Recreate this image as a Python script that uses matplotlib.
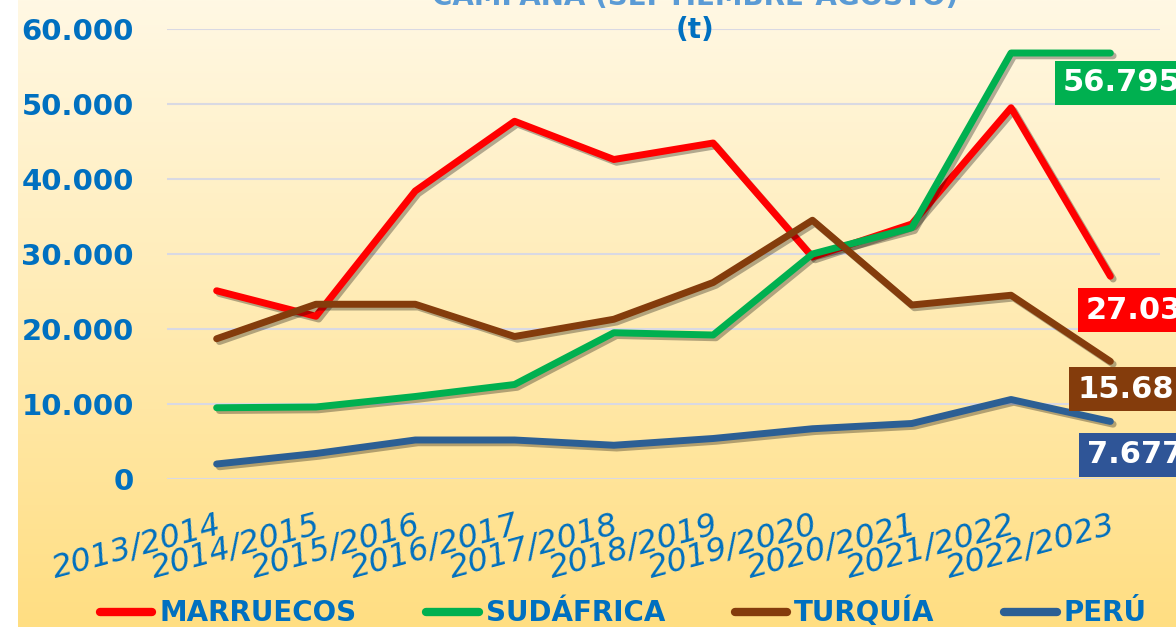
import numpy as np
import matplotlib
matplotlib.use("Agg")
import matplotlib.pyplot as plt
import matplotlib.patheffects as pe

plt.rcParams["font.family"] = ["DejaVu Sans"]

campaigns = ["2013/2014", "2014/2015", "2015/2016", "2016/2017", "2017/2018",
             "2018/2019", "2019/2020", "2020/2021", "2021/2022", "2022/2023"]
marruecos = [25100, 21700, 38400, 47700, 42600, 44800, 29600, 34000, 49500, 27034]
sudafrica = [9500, 9600, 11000, 12600, 19500, 19200, 30000, 33500, 56800, 56795]
turquia = [18700, 23300, 23300, 19000, 21300, 26200, 34500, 23200, 24500, 15681]
peru = [2000, 3400, 5200, 5200, 4500, 5400, 6700, 7400, 10600, 7677]

# name, values, line colour, label box colour
series = [("MARRUECOS", marruecos, "#FF0000", "#FF0000"),
          ("SUDÁFRICA", sudafrica, "#00B050", "#00B050"),
          ("TURQUÍA", turquia, "#843C0C", "#843C0C"),
          ("PERÚ", peru, "#2C5F94", "#2F5597")]
blue = "#0070C0"

fig = plt.figure(figsize=(11.76, 6.27), dpi=100)
fig.patch.set_facecolor("white")

# ---- gradient background ----
bg = fig.add_axes([18 / 1176, 0, 1, 1], zorder=-10)
grad = np.linspace(0, 1, 256).reshape(-1, 1)
top = np.array([255, 248, 228]) / 255
bot = np.array([255, 222, 130]) / 255
img = top + (bot - top) * grad[:, :, None]
bg.imshow(img, aspect="auto", extent=[0, 1, 0, 1])
bg.axis("off")

ax = fig.add_axes([167 / 1176, 1 - 479 / 627, (1160 - 167) / 1176, (479 - 29) / 627])
ax.set_facecolor("none")

x = np.arange(len(campaigns))
shadow = [pe.SimpleLineShadow(offset=(2, -2), alpha=0.3, shadow_color="black"), pe.Normal()]
for name, vals, col, _ in series:
    ax.plot(x, vals, color=col, lw=5, solid_capstyle="round", label=name,
            path_effects=shadow, zorder=3)

ax.set_xlim(-0.5, 9.5)
ax.set_ylim(0, 60000)
ax.set_yticks(range(0, 60001, 10000))
ax.set_yticklabels(["0" if v == 0 else f"{v // 1000}.000" for v in range(0, 60001, 10000)],
                   color=blue, fontsize=21, fontweight="bold")
ax.set_xticks(x)
ax.set_xticklabels(campaigns, rotation=15, ha="right", rotation_mode="anchor",
                   color=blue, fontsize=23, fontstyle="italic")
ax.tick_params(length=0, axis="both")
ax.tick_params(axis="y", pad=24)
ax.tick_params(axis="x", pad=22)
ax.grid(axis="y", color="#D9D9E3", lw=1.5)
ax.set_axisbelow(True)
for s in ax.spines.values():
    s.set_visible(False)

# ---- end labels (text left/centre offsets from last point, in points) ----
offsets = {"MARRUECOS": (-18, -24.5), "SUDÁFRICA": (-34.5, -21.5),
           "TURQUÍA": (-24, -20), "PERÚ": (-17, -24)}
for name, vals, _, box in series:
    v = vals[-1]
    lab = f"{v // 1000}.{v % 1000:03d}" if v >= 1000 else str(v)
    ax.annotate(lab, (x[-1], v), xytext=offsets[name], textcoords="offset points",
                color="white", fontsize=22, fontweight="bold", ha="left", va="center",
                bbox=dict(boxstyle="square,pad=0.25", fc=box, ec="none"),
                annotation_clip=False, zorder=5)

# ---- title ----
fig.text(0.591, 1.006, "CAMPAÑA (SEPTIEMBRE-AGOSTO)", color="#5B9BD5", fontsize=20,
         fontweight="bold", ha="center", va="center")
fig.text(0.591, 1 - 30 / 627, "(t)", color=blue, fontsize=20, fontweight="bold",
         ha="center", va="center")

# ---- legend ----
leg = fig.legend(loc="center", bbox_to_anchor=(0.53, 1 - 612 / 627), ncol=4, frameon=False,
                 fontsize=20, handlelength=1.9, columnspacing=2.5, handletextpad=0.25)
for t in leg.get_texts():
    t.set_color(blue)
    t.set_fontweight("bold")
for h in leg.legend_handles:
    h.set_path_effects([])
    h.set_linewidth(6)

fig.savefig("out.png", dpi=100)
